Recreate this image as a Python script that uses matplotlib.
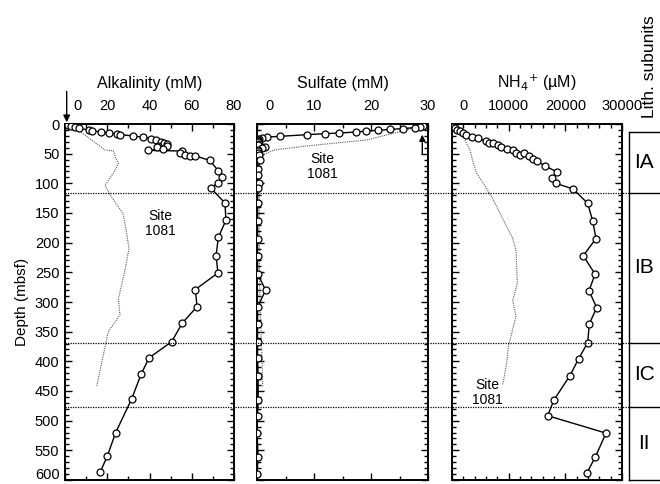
import numpy as np
import matplotlib
matplotlib.use("Agg")
import matplotlib.pyplot as plt
from matplotlib.lines import Line2D
from matplotlib.ticker import MultipleLocator
import matplotlib.transforms as mtransforms

plt.rcParams['font.family'] = ['Liberation Sans', 'DejaVu Sans']

# Alkalinity (mM), Site 1084
alk_depth = [2, 3.5, 5, 7, 10.5, 11.5, 13.5, 15, 17, 18, 20, 22.5, 24.7, 27.5, 30, 31.5, 33,
             36.5, 37, 39.5, 41.5, 44.5, 45.5, 49, 51.5, 54.5, 53.5, 61.5, 79, 90, 99, 108,
             133, 162, 191, 222, 251, 279, 308, 335, 367, 394, 422, 463, 520, 560, 587]
alk_vals = [1.5, 3, 4.5, 6.5, 11.5, 13, 17, 20.7, 24.8, 26, 32.3, 36.8, 40.6, 43.1, 45.3, 46.8, 48.1,
            44.2, 48.1, 43.4, 46.5, 39.4, 55.2, 54.4, 56.8, 59.2, 61.5, 68.6, 72.6, 74.4, 72.6, 69,
            75.7, 76.2, 72.6, 71.5, 72.4, 61.7, 62.5, 55.6, 50.5, 39.8, 36, 31.6, 24, 20, 16.6]
# Site 1081 alkalinity
alk81_depth = [10, 27, 44, 45, 55, 66, 83, 103, 122, 151, 182, 210, 246, 294, 322, 350, 375, 442]
alk81_vals = [6, 12.6, 19, 22.9, 23.7, 25.3, 22.9, 18.9, 21.8, 27.5, 29.1, 30.3, 28.4, 25.3, 26,
              20.5, 19, 15]

# Sulfate (mM)
so4_depth = [2.8, 4.5, 6, 7.7, 9, 10.7, 11.8, 13.5, 15.2, 16.3, 18, 20.8, 22, 23, 25, 27, 29, 31,
             33, 35, 38, 40, 43, 46, 49, 52, 61, 75, 86, 100, 108, 133, 163, 193, 222, 252, 280,
             309, 337, 367, 395, 424, 465, 492, 521, 561, 590]
so4_vals = [29.1, 28.6, 27.7, 25.7, 23.4, 21.3, 19.2, 17.4, 14.4, 11.9, 8.7, 4.0, 1.7, 0.8, 0.3,
            0.1, 0.2, 0.1, 0.3, 0.2, 1.4, 0.8, 0.2, 0.1, 0.2, 0.3, 0.6, 0.1, 0.1, 0.3, 0.1, 0.1,
            0.1, 0.1, 0.1, 0.1, 1.5, 0.1, 0.1, 0.1, 0.1, 0.2, 0.2, 0.1, 0.0, 0.2, 0.0]
so481_depth = [4, 7, 13, 27, 37, 44, 52, 60, 100, 200, 300, 400, 443]
so481_vals = [28.5, 27.4, 25, 19.2, 8.7, 2.9, 1.1, 0.5, 0.4, 0.4, 0.5, 0.9, 1.0]

# NH4+ (uM)
nh4_depth = [4.5, 7, 10, 11.8, 14.6, 18.5, 21.3, 24, 28.7, 31.5, 32.6, 35.4, 39.3, 42.7, 43.8,
             48.3, 52.2, 49.4, 54, 59.5, 61.9, 70.8, 80.4, 91.5, 100, 109.6, 133.7, 163, 193,
             222, 253, 281, 309.6, 337, 368.6, 395.5, 424, 465, 491.6, 521, 561, 588.7]
nh4_vals = [120, 530, 940, 1410, 1880, 2470, 3470, 4650, 6000, 6590, 7300, 8180, 8590, 9650,
            10710, 11290, 12000, 12700, 13640, 14240, 14950, 16410, 18470, 17600, 18300, 21410,
            23940, 24820, 25410, 23170, 25240, 24180, 25530, 24230, 23940, 22350, 20820, 18000,
            16880, 27180, 25300, 23770]
nh481_depth = [2, 7, 21, 44, 66, 83, 100, 122.5, 145, 173, 192.6, 212, 268.5, 296.6, 324.7, 375,
               403, 440]
nh481_vals = [0, 240, 2000, 3180, 3760, 4350, 5530, 7000, 8180, 9650, 10710, 11290, 11530, 10710,
              11290, 9940, 9650, 8940]

lith_bounds = [116, 369, 477]
lith_labels = ['IA', 'IB', 'IC', 'II']

W, H = 660, 484
fig = plt.figure(figsize=(W / 100, H / 100), dpi=100)


def px_axes(x0, x1, y0, y1):
    return fig.add_axes([x0 / W, 1 - y1 / H, (x1 - x0) / W, (y1 - y0) / H])


ax1 = px_axes(65, 234, 124, 480)
ax2 = px_axes(257, 428, 124, 480)
ax3 = px_axes(452, 622, 124, 480)
axl = px_axes(629, 672, 132, 480)

panels = [
    (ax1, alk_vals, alk_depth, alk81_vals, alk81_depth, 80, 20, 10, 'Alkalinity (mM)'),
    (ax2, so4_vals, so4_depth, so481_vals, so481_depth, 30, 10, 5, 'Sulfate (mM)'),
    (ax3, nh4_vals, nh4_depth, nh481_vals, nh481_depth, 30000, 10000, 2000,
     'NH$_4$$^{+}$ (\u00b5M)'),
]

for ax, xv, dv, xv81, dv81, xmax, maj, mnr, title in panels:
    ax.plot(xv81, dv81, color='0.35', lw=0.8, ls=(0, (1, 1)), zorder=2)
    ax.plot(xv, dv, color='k', lw=1.0, marker='o', ms=5, mfc='white', mec='k', mew=0.9, zorder=3)
    ax.set_xlim(0, xmax)
    ax.set_ylim(600, 0)
    ax.xaxis.set_minor_locator(MultipleLocator(mnr))
    ax.yaxis.set_minor_locator(MultipleLocator(10))
    ax.tick_params(which='both', direction='in', top=True, bottom=True, left=True, right=True,
                   labeltop=True, labelbottom=False, width=1.0, labelsize=10.5)
    ax.tick_params(which='major', length=5, pad=8)
    ax.tick_params(which='minor', length=3)
    ax.tick_params(axis='y', pad=4)
    for s in ax.spines.values():
        s.set_linewidth(1.4)
    # zero label drawn separately, shifted right as in the original
    xt = np.arange(0, xmax + 1, maj)
    ax.set_xticks(xt)
    ax.set_xticklabels([('' if t == 0 else '%d' % t) for t in xt])
    ax.text(0, 1, '0', ha='center', va='bottom', fontsize=10.5,
            transform=mtransforms.blended_transform_factory(ax.transData, ax.transAxes)
            + mtransforms.ScaledTranslation(12 / 100, 11 / 100, fig.dpi_scale_trans))
    ax.text(0.5, 1.115, title, transform=ax.transAxes, ha='center', va='center', fontsize=11.5)

# depth labels on the left panel; the bottom one nudged up to stay inside the figure
yt = np.arange(0, 601, 50)
ax1.set_yticks(yt)
ax1.set_yticklabels(['%d' % t for t in yt[:-1]] + [''])
ax1.text(0, yt[-1], '%d' % yt[-1], ha='right', va='center', fontsize=10.5,
         transform=mtransforms.blended_transform_factory(ax1.transAxes, ax1.transData)
         + mtransforms.ScaledTranslation(-5.5 / 100, 5 / 100, fig.dpi_scale_trans))
for ax in (ax2, ax3):
    ax.set_yticks(yt)
    ax.tick_params(axis='y', labelleft=False)
ax1.set_ylabel('Depth (mbsf)', fontsize=11, labelpad=4)

# site 1081 labels
ax1.text(45, 167, 'Site\n1081', ha='center', va='center', fontsize=10, linespacing=1.1)
ax2.text(11.4, 72, 'Site\n1081', ha='center', va='center', fontsize=10, linespacing=1.1)
ax3.text(6300, 452, 'Site\n1081', ha='center', va='center', fontsize=10, linespacing=1.1)

# seawater arrows
ax1.annotate('', xy=(0.8, -3), xytext=(0.8, -55), annotation_clip=False,
             arrowprops=dict(arrowstyle='-|>', color='k', lw=1.0, mutation_scale=10,
                             shrinkA=0, shrinkB=0))
ax2.annotate('', xy=(29, 18), xytext=(29, 51), annotation_clip=False,
             arrowprops=dict(arrowstyle='-|>', color='k', lw=1.0, mutation_scale=9,
                             shrinkA=0, shrinkB=0))

# lithologic subunit boundaries across all panels
tr = mtransforms.blended_transform_factory(fig.transFigure, ax1.transData)
for d in lith_bounds:
    fig.add_artist(Line2D([65 / W, 629 / W], [d, d], transform=tr, color='k', lw=0.9,
                          ls=(0, (1, 1)), zorder=1))

# lith column
axl.set_ylim(600, 13.5)
axl.set_xlim(0, 1)
axl.set_xticks([])
axl.set_yticks([])
for s in axl.spines.values():
    s.set_linewidth(1.0)
for d in lith_bounds:
    axl.axhline(d, color='k', lw=1.0)
edges = [13.5] + lith_bounds + [600]
for i, lab in enumerate(lith_labels):
    axl.text(0.35, (edges[i] + edges[i + 1]) / 2, lab, ha='center', va='center', fontsize=15)
fig.text(650 / W, 1 - 118 / H, 'Lith. subunits', rotation=90, ha='center', va='bottom',
         fontsize=12.5)

fig.savefig('out.png', dpi=100)
